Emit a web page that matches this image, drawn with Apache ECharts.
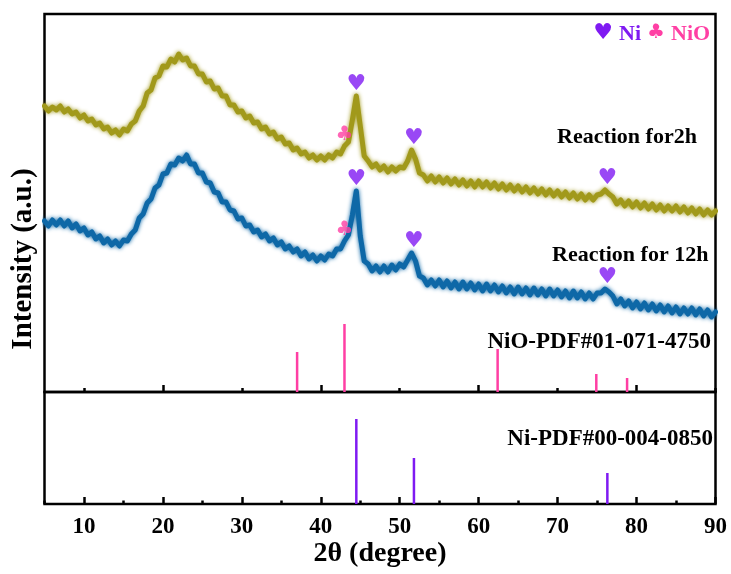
<!DOCTYPE html>
<html><head><meta charset="utf-8">
<script src="https://cdn.jsdelivr.net/npm/echarts@6/dist/echarts.min.js"></script>
<style>html,body{margin:0;padding:0;background:#fff}#c{width:731px;height:574px}</style>
</head><body><div id="c"></div>
<script>
// 2theta sampling (degree)
const twoTheta = [
5,5.5,6,6.5,7,7.5,8,8.5,9,9.5,
10,10.5,11,11.5,12,12.5,13,13.5,14,14.5,
15,15.5,16,16.5,17,17.5,18,18.5,19,19.5,
20,20.5,21,21.5,22,22.5,23,23.5,24,24.5,
25,25.5,26,26.5,27,27.5,28,28.5,29,29.5,
30,30.5,31,31.5,32,32.5,33,33.5,34,34.5,
35,35.5,36,36.5,37,37.5,38,38.5,39,39.5,
40,40.5,41,41.5,42,42.5,43,43.5,44,44.5,
45,45.5,46,46.5,47,47.5,48,48.5,49,49.5,
50,50.5,51,51.5,52,52.5,53,53.5,54,54.5,
55,55.5,56,56.5,57,57.5,58,58.5,59,59.5,
60,60.5,61,61.5,62,62.5,63,63.5,64,64.5,
65,65.5,66,66.5,67,67.5,68,68.5,69,69.5,
70,70.5,71,71.5,72,72.5,73,73.5,74,74.5,
75,75.5,76,76.5,77,77.5,78,78.5,79,79.5,
80,80.5,81,81.5,82,82.5,83,83.5,84,84.5,
85,85.5,86,86.5,87,87.5,88,88.5,89,89.5,
90];
// Reaction for 2h (offset intensity, a.u.)
const sample2h = [
286,281,285,282,286,280,283,278,280,274,
277,271,273,267,269,263,265,259,262,257,
263,261,268,271,281,286,299,302,314,316,
326,325,333,330,338,332,334,326,326,318,
318,310,311,303,304,296,296,287,287,280,
281,274,276,269,270,263,265,258,260,253,
255,248,249,242,244,238,240,234,237,232,
236,232,237,234,240,238,246,250,272,296,
266,236,231,225,228,222,226,220,225,221,
225,224,231,242,233,219,217,211,216,210,
215,209,214,208,213,207,212,206,211,205,
211,205,210,204,209,203,208,202,207,201,
206,200,205,199,204,198,203,197,202,196,
201,195,200,194,199,193,198,192,197,192,
197,198,202,198,195,188,192,186,191,185,
190,184,189,183,188,182,187,181,186,181,
186,180,185,179,184,178,183,177,182,177,
181];
// Reaction for 12h (offset intensity, a.u.)
const sample12h = [
171,166,172,167,172,166,171,164,168,161,
164,157,160,153,156,149,153,147,151,146,
152,151,158,162,174,178,189,193,204,207,
218,219,228,227,234,231,237,228,228,219,
219,210,209,200,199,190,190,182,181,173,
174,166,167,160,162,155,158,151,154,147,
150,143,146,140,143,136,140,133,137,131,
136,132,138,136,143,143,151,157,177,201,
156,131,128,121,126,120,126,120,127,122,
128,125,132,139,131,116,114,107,112,106,
112,105,111,104,110,103,110,103,109,102,
108,101,108,101,107,100,106,99,105,98,
105,98,104,97,104,97,103,96,103,96,
102,95,101,94,101,94,100,93,99,93,
99,99,103,100,96,88,93,86,91,84,
90,83,89,82,88,81,87,80,86,79,
85,78,84,78,84,77,83,76,82,75,
80];
// Reference patterns
const nioPos = [37.0, 43.0, 62.4, 74.9, 78.8];
const nioInt = [40, 68, 43, 18, 14];
const niPos = [44.5, 51.8, 76.3];
const niInt = [85, 46, 31];
const seriesNames = ['Reaction for2h', 'Reaction for 12h'];
const refNames = ['NiO-PDF#01-071-4750', 'Ni-PDF#00-004-0850'];

// layout
const L = 44.5, R = 715.5, T = 14, MID = 392, B = 504;
const X0 = 5, X1 = 90;
const px = d => L + (d - X0) * (R - L) / (X1 - X0);
const OLIVE = '#A1991B', BLUE = '#0E68A7', PINK = '#FF3FA4', PURPLE = '#7F1AF2';
const SERIF = '"Liberation Serif","Times New Roman",serif';

const zip = (a, b) => a.map((v, i) => [v, b[i]]);
function peakNear(xs, ys, x0, w) {
  let best = -1;
  for (let i = 0; i < xs.length; i++) {
    if (Math.abs(xs[i] - x0) <= w && (best < 0 || ys[i] > ys[best])) best = i;
  }
  return [x0, ys[best]];
}
const heartTop = niPos.map(p => peakNear(twoTheta, sample2h, p, 0.6));
const heartBot = niPos.map(p => peakNear(twoTheta, sample12h, p, 0.6));
const clubTop = [peakNear(twoTheta, sample2h, nioPos[1], 0.2)];
const clubBot = [peakNear(twoTheta, sample12h, nioPos[1], 0.2)];

const tickAxis = (grid, min, max, interval, len, labels) => ({
  gridIndex: grid, type: 'value', min: min, max: max, interval: interval,
  axisLine: {show: false},
  axisTick: {show: true, inside: true, length: len, lineStyle: {color: '#000', width: 2.5}},
  axisLabel: labels ? {show: true, margin: 12, fontSize: 23, fontWeight: 'bold', fontFamily: SERIF, color: '#000'} : {show: false},
  splitLine: {show: false}
});
const glyph = (name, data, ch, color, size, dist) => ({
  name: name, type: 'scatter', xAxisIndex: 0, yAxisIndex: 0, data: data,
  symbol: 'circle', symbolSize: 1, itemStyle: {color: 'rgba(0,0,0,0)'},
  label: {show: true, formatter: ch, position: 'top', distance: dist, color: color,
    fontSize: size, fontFamily: '"DejaVu Sans"'},
  z: 5, silent: true
});
const curve = (name, ys, color) => ({
  name: name, type: 'line', xAxisIndex: 0, yAxisIndex: 0, data: zip(twoTheta, ys),
  symbol: 'none', z: 3,
  lineStyle: {color: color, width: 5, join: 'round', cap: 'round', shadowColor: color, shadowBlur: 4}
});

const chart = echarts.init(document.getElementById('c'), null, {renderer: 'canvas'});
chart.setOption({
  animation: false,
  backgroundColor: '#fff',
  grid: [
    {left: L, top: T, width: R - L, height: MID - T, show: true, borderColor: '#000', borderWidth: 2.5, backgroundColor: 'transparent'},
    {left: L, top: MID, width: R - L, height: B - MID, show: true, borderColor: '#000', borderWidth: 2.5, backgroundColor: 'transparent'},
    {left: px(20), top: T, width: px(80) - px(20), height: MID - T},
    {left: px(10), top: T, width: px(90) - px(10), height: MID - T},
    {left: px(10), top: MID, width: px(90) - px(10), height: B - MID}
  ],
  xAxis: [
    {gridIndex: 0, type: 'value', min: X0, max: X1, show: false},
    Object.assign(tickAxis(1, 5, 90, 5, 3.5, false), {
      name: '2θ (degree)', nameLocation: 'middle', nameGap: 36,
      nameTextStyle: {fontSize: 28, fontWeight: 'bold', fontFamily: SERIF, color: '#000'}
    }),
    tickAxis(2, 20, 80, 20, 7, false),
    tickAxis(3, 10, 90, 20, 4, false),
    tickAxis(4, 10, 90, 10, 7, true)
  ],
  yAxis: [
    {gridIndex: 0, type: 'value', min: 0, max: MID - T, show: false},
    {gridIndex: 1, type: 'value', min: 0, max: B - MID, show: false},
    {gridIndex: 2, type: 'value', min: 0, max: 1, show: false},
    {gridIndex: 3, type: 'value', min: 0, max: 1, show: false},
    {gridIndex: 4, type: 'value', min: 0, max: 1, show: false}
  ],
  series: [
    {name: refNames[0], type: 'bar', xAxisIndex: 0, yAxisIndex: 0, data: zip(nioPos, nioInt), barWidth: 2.5, itemStyle: {color: PINK}, silent: true},
    {name: refNames[1], type: 'bar', xAxisIndex: 1, yAxisIndex: 1, data: zip(niPos, niInt), barWidth: 2.5, itemStyle: {color: PURPLE}, silent: true},
    curve(seriesNames[0], sample2h, OLIVE),
    curve(seriesNames[1], sample12h, BLUE),
    glyph('Ni 2h', heartTop, '♥', PURPLE, 22, 0),
    glyph('Ni 12h', heartBot, '♥', PURPLE, 22, 0),
    glyph('NiO 2h', clubTop, '♣', PINK, 20, 1),
    glyph('NiO 12h', clubBot, '♣', PINK, 20, 1)
  ],
  graphic: [
    {type: 'text', x: 24, y: 259, rotation: Math.PI / 2, style: {text: 'Intensity (a.u.)', font: 'bold 29px ' + SERIF, fill: '#000', align: 'center', verticalAlign: 'middle'}},
    {type: 'text', x: 557, y: 137, style: {text: seriesNames[0], font: 'bold 22px ' + SERIF, fill: '#000', align: 'left', verticalAlign: 'middle'}},
    {type: 'text', x: 552, y: 255, style: {text: seriesNames[1], font: 'bold 22px ' + SERIF, fill: '#000', align: 'left', verticalAlign: 'middle'}},
    {type: 'text', x: 711, y: 342, style: {text: refNames[0], font: 'bold 23px ' + SERIF, fill: '#000', align: 'right', verticalAlign: 'middle'}},
    {type: 'text', x: 713, y: 439, style: {text: refNames[1], font: 'bold 23px ' + SERIF, fill: '#000', align: 'right', verticalAlign: 'middle'}},
    {type: 'text', x: 603, y: 33, style: {text: '♥', font: '22px "DejaVu Sans"', fill: PURPLE, align: 'center', verticalAlign: 'middle'}},
    {type: 'text', x: 619, y: 34, style: {text: 'Ni', font: 'bold 22px ' + SERIF, fill: PURPLE, align: 'left', verticalAlign: 'middle'}},
    {type: 'text', x: 656, y: 33, style: {text: '♣', font: '20px "DejaVu Sans"', fill: PINK, align: 'center', verticalAlign: 'middle'}},
    {type: 'text', x: 671, y: 34, style: {text: 'NiO', font: 'bold 22px ' + SERIF, fill: PINK, align: 'left', verticalAlign: 'middle'}}
  ]
});
</script></body></html>
